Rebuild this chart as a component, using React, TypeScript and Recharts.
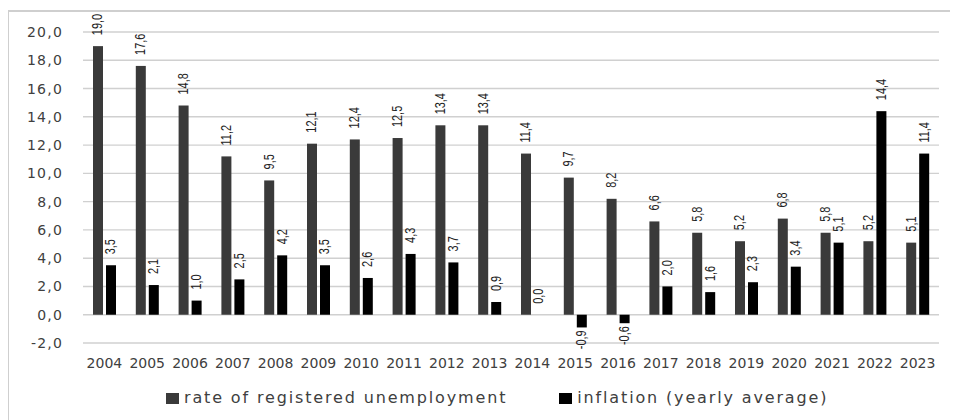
import React from 'react';
import { BarChart, Bar, XAxis, YAxis, CartesianGrid, Legend } from 'recharts';

const years = [
  '2004', '2005', '2006', '2007', '2008', '2009', '2010', '2011', '2012', '2013',
  '2014', '2015', '2016', '2017', '2018', '2019', '2020', '2021', '2022', '2023',
];
const unemployment = [19.0, 17.6, 14.8, 11.2, 9.5, 12.1, 12.4, 12.5, 13.4, 13.4, 11.4, 9.7, 8.2, 6.6, 5.8, 5.2, 6.8, 5.8, 5.2, 5.1];
const inflation = [3.5, 2.1, 1.0, 2.5, 4.2, 3.5, 2.6, 4.3, 3.7, 0.9, 0.0, -0.9, -0.6, 2.0, 1.6, 2.3, 3.4, 5.1, 14.4, 11.4];
const yTicks = [-2, 0, 2, 4, 6, 8, 10, 12, 14, 16, 18, 20];
const seriesNames = ['rate of registered unemployment', 'inflation (yearly average)'];

const chartData = years.map((year, i) => ({
  year,
  unemployment: unemployment[i],
  inflation: inflation[i],
}));

const fmt = (v: number) => Number(v).toFixed(1).replace('.', ',');

const tickFont = 'DejaVu Sans, sans-serif';

// bar + rotated value label (above positive bars, below negative ones)
const makeShape = (key: string) => (props: any) => {
  const { x, y, width, height, fill, payload } = props;
  const value = Number(payload[key]);
  const top = Math.min(Number(y), Number(y) + Number(height));
  const bottom = Math.max(Number(y), Number(y) + Number(height));
  const cx = Number(x) + Number(width) / 2;
  const neg = value < 0;
  const ay = neg ? bottom + 3 : top - 11;
  return (
    <g>
      {bottom - top > 0 && <rect x={x} y={top} width={width} height={bottom - top} fill={fill} />}
      <text
        x={0}
        y={0}
        transform={`translate(${cx} ${ay}) rotate(-90) scale(0.78 1)`}
        textAnchor={neg ? 'end' : 'start'}
        dominantBaseline="central"
        fontFamily="Liberation Sans, Arial, sans-serif"
        fontSize={14}
        fill="#222"
      >
        {fmt(value)}
      </text>
    </g>
  );
};

const LegendContent = (props: any) => {
  const { payload = [] } = props;
  const items = [...payload].sort((a: any, b: any) => seriesNames.indexOf(a.value) - seriesNames.indexOf(b.value));
  return (
    <div style={{ display: 'flex', height: 20, alignItems: 'center', paddingLeft: 158 }}>
      {items.map((item: any, i: number) => (
        <div key={item.value} style={{ display: 'flex', alignItems: 'center', marginLeft: i === 0 ? 0 : 52 }}>
          <span style={{ width: 13, height: 11, background: item.color, marginRight: 5, display: 'inline-block' }} />
          <span style={{ fontFamily: tickFont, fontSize: 16, letterSpacing: 1.85, color: '#404040', lineHeight: '20px' }}>
            {item.value}
          </span>
        </div>
      ))}
    </div>
  );
};

const App: React.FC = () => {
  return (
    <div style={{ position: 'relative', width: 950, height: 412, background: '#fff' }}>
      <div
        style={{
          position: 'absolute',
          left: -1,
          top: 2,
          width: 960,
          height: 430,
          borderTop: '2px solid #cfcfcf',
          borderLeft: '2px solid #cfcfcf',
          boxSizing: 'border-box',
        }}
      />
      <BarChart
        width={950}
        height={412}
        data={chartData}
        margin={{ top: 24, right: 19, bottom: 12, left: 0 }}
        barSize={10}
        barGap={3}
      >
        <CartesianGrid vertical={false} stroke="#d0d0d0" strokeWidth={1.4} />
        <XAxis
          dataKey="year"
          height={45}
          axisLine={false}
          tickLine={false}
          tickMargin={9}
          interval={0}
          tick={{ fontSize: 14, fontFamily: tickFont, fill: '#404040' }}
        />
        <YAxis
          width={75}
          domain={[-2, 20]}
          ticks={yTicks}
          axisLine={false}
          tickLine={false}
          tickMargin={14}
          tickFormatter={fmt}
          tick={{ fontSize: 14, fontFamily: tickFont, fill: '#404040', letterSpacing: 1.2 }}
        />
        <Legend verticalAlign="bottom" height={20} content={<LegendContent />} />
        <Bar
          dataKey="unemployment"
          name={seriesNames[0]}
          fill="#3a3a3a"
          isAnimationActive={false}
          shape={makeShape('unemployment')}
        />
        <Bar
          dataKey="inflation"
          name={seriesNames[1]}
          fill="#000000"
          isAnimationActive={false}
          shape={makeShape('inflation')}
        />
      </BarChart>
    </div>
  );
};

export default App;
